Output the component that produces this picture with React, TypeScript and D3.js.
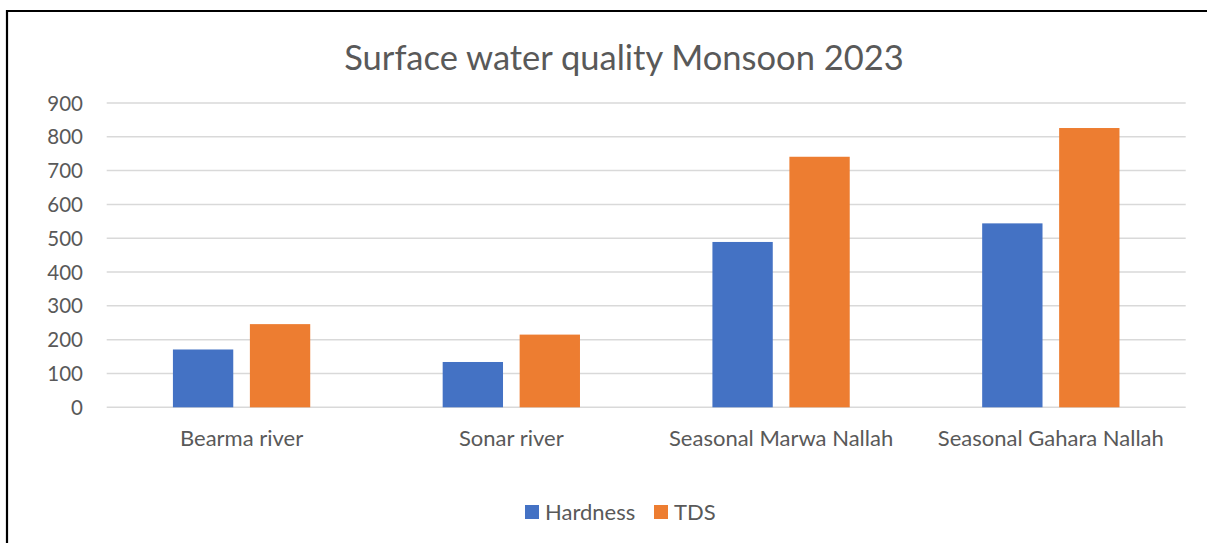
import { useEffect, useRef } from "react";
import * as d3 from "d3";

const categories = ["Bearma river", "Sonar river", "Seasonal Marwa Nallah", "Seasonal Gahara Nallah"];
const seriesNames = ["Hardness", "TDS"];
const hardness = [171, 134, 489, 544];
const tds = [246, 215, 741, 826];
const yTicks = [0, 100, 200, 300, 400, 500, 600, 700, 800, 900];
const colors = ["#4472C4", "#ED7D31"];

const FONT = "Lato, 'Noto Sans', Arial, sans-serif";
const TEXT = "#595959";

const App = () => {
  const ref = useRef<SVGSVGElement | null>(null);

  useEffect(() => {
    const el = ref.current;
    if (!el) return;
    const svg = d3.select(el);
    svg.selectAll("*").remove();

    const W = 1207, H = 543;
    const plot = { left: 106.7, right: 1185.7, top: 103, bottom: 407.3 };

    // border (cropped box: left and top edges)
    svg.append("path")
      .attr("d", `M7,${H} L7,11 L${W},11`)
      .attr("fill", "none")
      .attr("stroke", "#000")
      .attr("stroke-width", 2.2);

    // title
    svg.append("text")
      .attr("x", 624)
      .attr("y", 69.5)
      .attr("text-anchor", "middle")
      .style("font-family", FONT)
      .style("font-size", "34.5px")
      .style("fill", TEXT)
      .text("Surface water quality Monsoon 2023");

    const x0 = d3.scaleBand<string>()
      .domain(categories)
      .range([plot.left, plot.right])
      .paddingInner(0.491)
      .paddingOuter(0.2455);

    const x1 = d3.scaleBand<string>()
      .domain(seriesNames)
      .range([0, x0.bandwidth()])
      .paddingInner(0.216)
      .paddingOuter(0);

    const y = d3.scaleLinear().domain([0, 900]).range([plot.bottom, plot.top]);

    // grid
    svg.append("g")
      .selectAll("line")
      .data(yTicks)
      .enter()
      .append("line")
      .attr("x1", plot.left)
      .attr("x2", plot.right)
      .attr("y1", d => y(d))
      .attr("y2", d => y(d))
      .attr("stroke", "#d9d9d9")
      .attr("stroke-width", 1.5);

    // y labels
    svg.append("g")
      .selectAll("text")
      .data(yTicks)
      .enter()
      .append("text")
      .attr("x", 83)
      .attr("y", d => y(d) + 7.5)
      .attr("text-anchor", "end")
      .style("font-family", FONT)
      .style("font-size", "20.5px")
      .style("fill", TEXT)
      .text(d => d);

    // bars
    const values = [hardness, tds];
    seriesNames.forEach((s, si) => {
      svg.append("g")
        .selectAll("rect")
        .data(categories)
        .enter()
        .append("rect")
        .attr("x", c => (x0(c) ?? 0) + (x1(s) ?? 0))
        .attr("width", x1.bandwidth())
        .attr("y", (c, i) => y(values[si][i]))
        .attr("height", (c, i) => y(0) - y(values[si][i]))
        .attr("fill", colors[si]);
    });

    // x labels
    svg.append("g")
      .selectAll("text")
      .data(categories)
      .enter()
      .append("text")
      .attr("x", c => (x0(c) ?? 0) + x0.bandwidth() / 2)
      .attr("y", 445.7)
      .attr("text-anchor", "middle")
      .style("font-family", FONT)
      .style("font-size", "22px")
      .style("fill", TEXT)
      .text(c => c);

    // legend
    const legendItems = [
      { name: seriesNames[0], sx: 525, tx: 545 },
      { name: seriesNames[1], sx: 654, tx: 674 },
    ];
    legendItems.forEach((d, i) => {
      svg.append("rect")
        .attr("x", d.sx)
        .attr("y", 505)
        .attr("width", 14)
        .attr("height", 14)
        .attr("fill", colors[i]);
      svg.append("text")
        .attr("x", d.tx)
        .attr("y", 519.5)
        .style("font-family", FONT)
        .style("font-size", "22px")
        .style("fill", TEXT)
        .text(d.name);
    });
  }, []);

  return (
    <svg
      ref={ref}
      width={1207}
      height={543}
      style={{ position: "absolute", left: 0, top: 0, display: "block", background: "#fff" }}
    />
  );
};

export default App;
